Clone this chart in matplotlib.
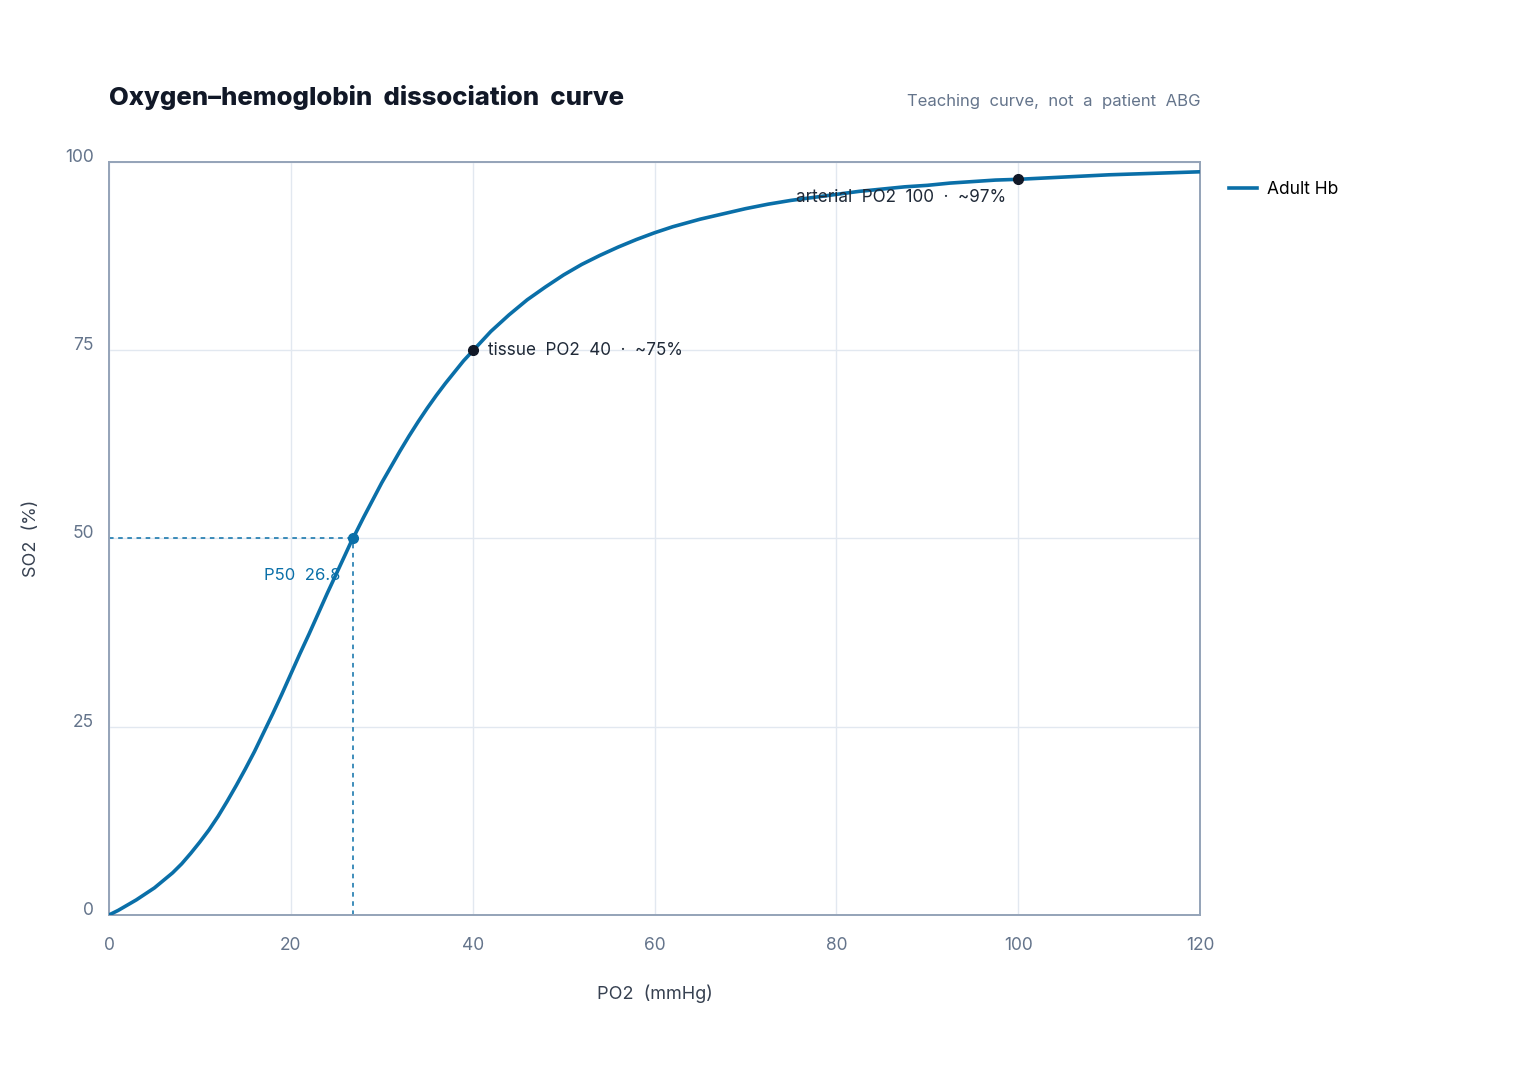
import matplotlib
matplotlib.use("Agg")
import matplotlib.pyplot as plt

plt.rcParams["font.family"] = ["Inter", "DejaVu Sans"]

# PO2 (mmHg) and SO2 (%)
po2 = [0, 1, 2, 3, 4, 5, 6, 7, 8, 9, 10, 11, 12, 13, 14, 15, 16, 17, 18, 19,
       20, 21, 22, 23, 24, 25, 26, 26.8, 27, 28, 29, 30, 31, 32, 33, 34, 35,
       36, 37, 38, 39, 40, 42, 44, 46, 48, 50, 52, 54, 56, 58, 60, 62, 65,
       67.5, 70, 72.5, 75, 77.5, 80, 82.5, 85, 87.5, 90, 92.5, 95, 97.5, 100,
       105, 110, 115, 120]
so2 = [0, 0.6, 1.3, 2.0, 2.8, 3.6, 4.6, 5.6, 6.8, 8.2, 9.7, 11.3, 13.1, 15.1,
       17.2, 19.4, 21.7, 24.2, 26.7, 29.3, 32.0, 34.7, 37.3, 40.0, 42.7, 45.3,
       47.9, 50.0, 50.4, 52.8, 55.1, 57.4, 59.5, 61.6, 63.6, 65.5, 67.3, 69.0,
       70.6, 72.1, 73.6, 74.9, 77.5, 79.7, 81.7, 83.4, 85.0, 86.4, 87.6, 88.7,
       89.7, 90.6, 91.4, 92.4, 93.1, 93.8, 94.4, 94.9, 95.3, 95.7, 96.1, 96.4,
       96.7, 96.9, 97.2, 97.4, 97.6, 97.7, 98.0, 98.3, 98.5, 98.7]

p50 = (26.8, 50)
tissue = (40, 75)
arterial = (100, 97.7)

x_ticks = [0, 20, 40, 60, 80, 100, 120]
y_ticks = [0, 25, 50, 75, 100]

BLUE = "#0a6fa8"
DARK = "#111827"
GRAY = "#64748b"
SPINE = "#94a3b8"
GRID = "#e2e8f0"

fig = plt.figure(figsize=(15.2, 10.8), dpi=100)
ax = fig.add_axes([0.0717, 0.1528, 0.7178, 0.6972])

ax.plot(po2, so2, color=BLUE, lw=2.6, label="Adult Hb", zorder=3,
        solid_joinstyle="round")

ax.plot([0, p50[0]], [p50[1], p50[1]], color=BLUE, lw=1.1, ls=(0, (3, 3)), zorder=2)
ax.plot([p50[0], p50[0]], [0, p50[1]], color=BLUE, lw=1.1, ls=(0, (3, 3)), zorder=2)
ax.plot(*p50, "o", color=BLUE, ms=7, zorder=4)
ax.annotate(f"P50  {p50[0]}", p50, xytext=(-9, -27), textcoords="offset points",
            ha="right", va="center", color=BLUE, fontsize=12)

ax.plot(*tissue, "o", color=DARK, ms=7, zorder=4)
ax.annotate("tissue  PO2  40  ·  ~75%", tissue, xytext=(11, 0),
            textcoords="offset points", ha="left", va="center",
            color="#1f2937", fontsize=12.3)

ax.plot(*arterial, "o", color=DARK, ms=7, zorder=4)
ax.annotate("arterial  PO2  100  ·  ~97%", arterial, xytext=(-9, -13),
            textcoords="offset points", ha="right", va="center",
            color="#1f2937", fontsize=12.3)

ax.set_xlim(0, 120)
ax.set_ylim(0, 100)
ax.set_xticks(x_ticks)
ax.set_yticks(y_ticks)
ax.grid(True, color=GRID, lw=1)
ax.set_axisbelow(True)
for s in ax.spines.values():
    s.set_color(SPINE)
    s.set_linewidth(1.4)
ax.tick_params(length=0, labelsize=12.5, labelcolor=GRAY)
ax.tick_params(axis="x", pad=16)
ax.tick_params(axis="y", pad=11)
for lbl in ax.get_yticklabels():
    lbl.set_verticalalignment("baseline")

ax.set_xlabel("PO2  (mmHg)", fontsize=13, color="#374151", labelpad=22)
ax.set_ylabel("SO2  (%)", fontsize=13, color="#374151", labelpad=18)

fig.text(0.0717, 0.91, "Oxygen–hemoglobin  dissociation  curve", fontsize=18.5,
         fontweight="heavy", color=DARK, ha="left", va="center")
fig.text(0.7895, 0.906, "Teaching  curve,  not  a  patient  ABG", fontsize=12,
         color=GRAY, ha="right", va="center")

ax.legend(loc="upper left", bbox_to_anchor=(1.012, 0.995), frameon=False,
          fontsize=12.5, handlelength=1.6, handletextpad=0.6)

fig.savefig("out.png", dpi=100)
